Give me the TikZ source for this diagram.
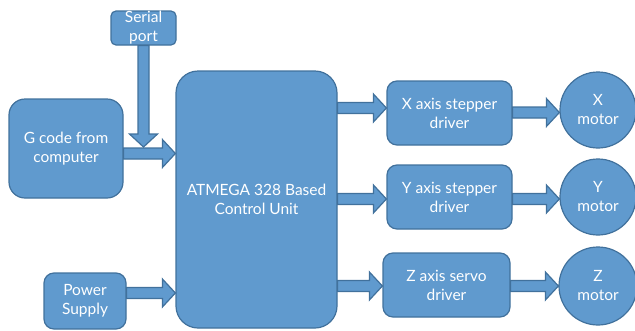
\documentclass[tikz,border=0pt]{standalone}
\usepackage{fontspec}
\setmainfont{Lato}
\usepackage{tikz}
\usetikzlibrary{calc, positioning}
\definecolor{boxfill}{RGB}{96,154,206}
\definecolor{boxline}{RGB}{65,113,156}
\tikzset{blockarrow/.style={draw=boxline,fill=boxfill,line width=1.2pt,line join=miter}}
% fat arrow from #1 to #2 (node anchors or coordinates)
\newcommand{\fatarrow}[2]{%
  \coordinate (neck) at ($(#2)!13pt!(#1)$);
  \draw[blockarrow] ($(#1)!5.5pt!90:(#2)$) -- ($(neck)!5.5pt!90:(#2)$)
    -- ($(neck)!14pt!90:(#2)$) -- (#2) -- ($(neck)!14pt!-90:(#2)$)
    -- ($(neck)!5.5pt!-90:(#2)$) -- ($(#1)!5.5pt!-90:(#2)$) -- cycle;}

\begin{document}
\begin{tikzpicture}[x=1pt,y=-1pt]
    \tikzstyle{block}=[rectangle,rounded corners=10pt,draw=boxline,fill=boxfill,line width=1.2pt,text=white,align=center,inner sep=0pt,font=\fontsize{15.5}{19}\selectfont]
    \tikzstyle{motor}=[circle,draw=boxline,fill=boxfill,line width=1.2pt,text=white,align=center,inner sep=0pt,minimum size=76pt,font=\fontsize{15.5}{19}\selectfont]
    \useasboundingbox (0,0) rectangle (635,330);

    \node (serial)[block,minimum width=65pt,minimum height=34pt,rounded corners=5pt] at (143.5,28) {Serial\\port};
    \node (gcode)[block,minimum width=114pt,minimum height=99pt,rounded corners=16pt] at (66,148.5) {G code from\\computer};
    \node (power)[block,minimum width=82pt,minimum height=56pt] at (85,301) {Power\\Supply};
    \node (ctrl)[block,minimum width=161pt,minimum height=257pt,rounded corners=22pt] at (256.5,199.5) {ATMEGA 328 Based\\Control Unit};

    \node (xdrv)[block,minimum width=125pt,minimum height=64pt] at (449.5,113) {X axis stepper\\driver};
    \node (ydrv)[block,minimum width=125pt,minimum height=64pt] at (449.5,197) {Y axis stepper\\driver};
    \node (zdrv)[block,minimum width=127pt,minimum height=64pt] at (446.5,285) {Z axis servo\\driver};

    \node (xmot)[motor] at (598,110) {X\\motor};
    \node (ymot)[motor] at (598,197) {Y\\motor};
    \node (zmot)[motor,minimum size=78pt] at (598,286) {Z\\motor};

    % inputs
    \coordinate (gout) at ([yshift=-5pt]gcode.east);
    \coordinate (gin) at (ctrl.west |- gout);
    \coordinate (stip) at (serial.south |- 0,147);
    \coordinate (pout) at ([yshift=8pt]power.east);
    \coordinate (pin) at (ctrl.west |- pout);
    \fatarrow{gout}{gin}
    \fatarrow{serial.south}{stip}
    \fatarrow{pout}{pin}

    % outputs
    \coordinate (xin) at ([yshift=5pt]xdrv.west);
    \coordinate (yin) at ([yshift=-2pt]ydrv.west);
    \coordinate (zin) at ([yshift=-1pt]zdrv.west);
    \coordinate (xout) at (ctrl.east |- xin);
    \coordinate (yout) at (ctrl.east |- yin);
    \coordinate (zout) at (ctrl.east |- zin);
    \fatarrow{xout}{xin}
    \fatarrow{yout}{yin}
    \fatarrow{zout}{zin}

    \coordinate (xa) at (xdrv.east |- 0,112.5);
    \coordinate (ya) at (ydrv.east |- 0,199);
    \coordinate (za) at (zdrv.east |- 0,286);
    \fatarrow{xa}{xmot.west |- xa}
    \fatarrow{ya}{ymot.west |- ya}
    \fatarrow{za}{zmot.west |- za}
\end{tikzpicture}
\end{document}
